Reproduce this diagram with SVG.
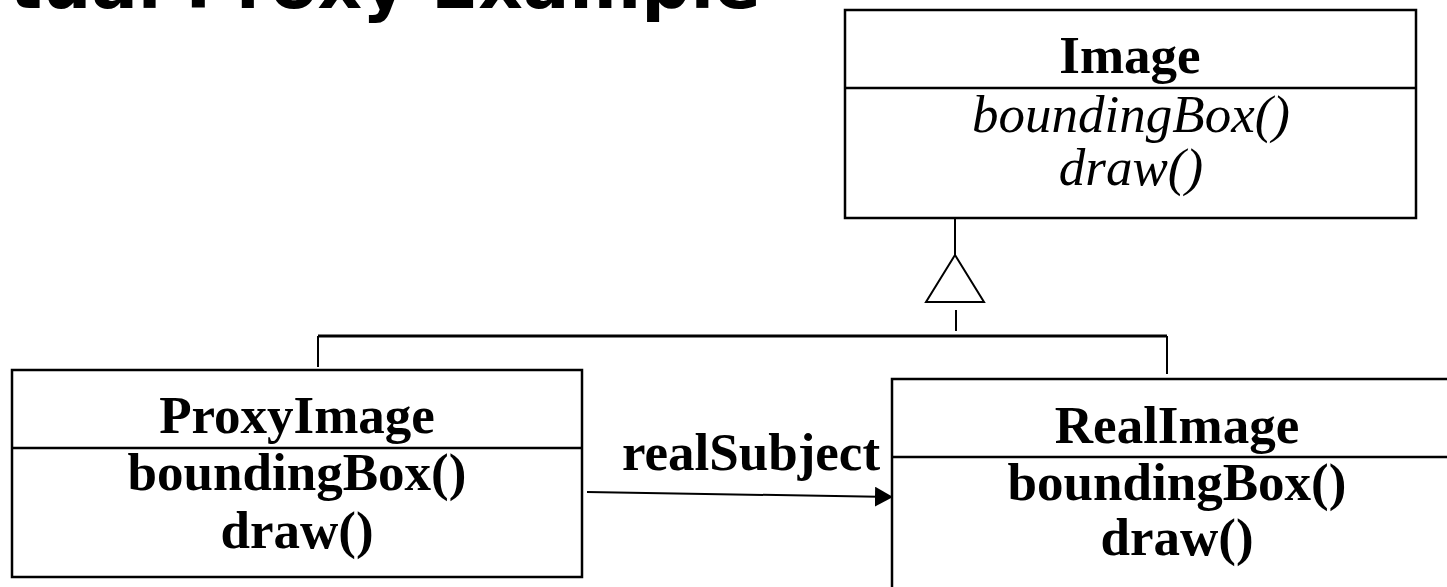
<svg xmlns="http://www.w3.org/2000/svg" width="1447" height="587" viewBox="0 0 1447 587">
<defs>
<style>
.box{fill:#fff;stroke:#000;stroke-width:2.5}
.div{stroke:#000;stroke-width:2.5}
.t{font-family:"Liberation Serif","Times New Roman",serif;font-size:53px;fill:#000;text-anchor:middle}
.b{font-weight:bold}
.i{font-style:italic}
.ln{stroke:#000;stroke-width:2;fill:none}
.title{font-family:"DejaVu Sans",sans-serif;font-weight:bold;font-size:69px;fill:#000;text-anchor:end}
</style>
<marker id="arr" markerWidth="20" markerHeight="20" refX="18" refY="10" orient="auto" markerUnits="userSpaceOnUse">
<path d="M0,0 L18,10 L0,20 Z" fill="#000"/>
</marker>
</defs>
<rect width="1447" height="587" fill="#fff"/>
<text class="title" x="761" y="8">Virtual Proxy Example</text>
<g id="connectors">
<line class="ln" x1="955" y1="218" x2="955" y2="255"/>
<polygon points="955,255 926,302 984,302" fill="#fff" stroke="#000" stroke-width="2"/>
<line class="ln" x1="956" y1="310" x2="956" y2="331"/>
<line x1="318" y1="336" x2="1167" y2="336" stroke="#000" stroke-width="3"/>
<line class="ln" x1="318" y1="336" x2="318" y2="367"/>
<line class="ln" x1="1167" y1="336" x2="1167" y2="374"/>
<line class="ln" x1="587" y1="492" x2="893" y2="497" marker-end="url(#arr)"/>
<text class="t b" x="751" y="470">realSubject</text>
</g>
<g id="Image">
<rect class="box" x="845" y="10" width="571" height="208"/>
<line class="div" x1="845" y1="88" x2="1416" y2="88"/>
<text class="t b" x="1130" y="73">Image</text>
<text class="t i" x="1131" y="132">boundingBox()</text>
<text class="t i" x="1131" y="185">draw()</text>
</g>
<g id="ProxyImage">
<rect class="box" x="12" y="370" width="570" height="207"/>
<line class="div" x1="12" y1="448" x2="582" y2="448"/>
<text class="t b" x="297" y="433">ProxyImage</text>
<text class="t b" x="297" y="490">boundingBox()</text>
<text class="t b" x="297" y="548">draw()</text>
</g>
<g id="RealImage">
<rect class="box" x="892" y="379" width="570" height="212"/>
<line class="div" x1="892" y1="457" x2="1462" y2="457"/>
<text class="t b" x="1177" y="443">RealImage</text>
<text class="t b" x="1177" y="500">boundingBox()</text>
<text class="t b" x="1177" y="555">draw()</text>
</g>
</svg>
